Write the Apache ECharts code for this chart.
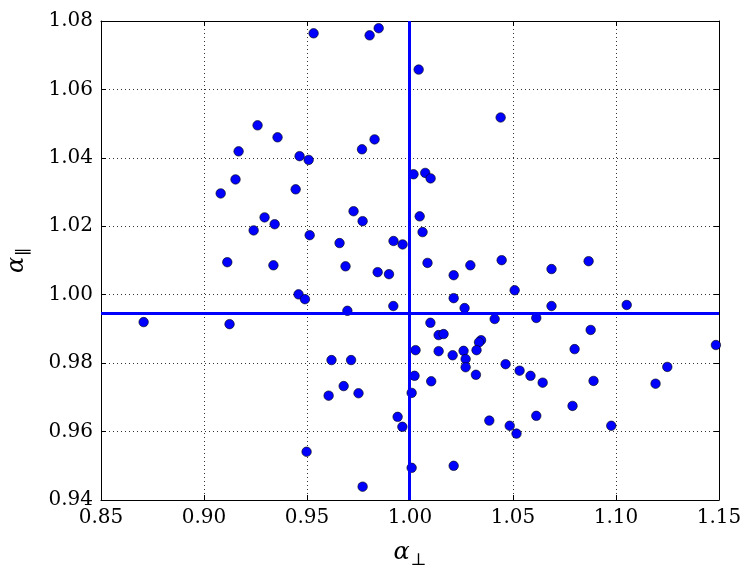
<!DOCTYPE html>
<html>
<head>
<meta charset="utf-8">
<script src="https://cdn.jsdelivr.net/npm/echarts@6/dist/echarts.min.js"></script>
<style>
  html, body { margin: 0; padding: 0; background: #fff; }
  #chart { width: 754px; height: 572px; }
</style>
</head>
<body>
<div id="chart"></div>
<script>
// alpha_perp (x) and alpha_par (y) for each realisation
const alphaPerp = [
  0.9532, 0.9804, 0.9848, 0.9260, 0.9357, 0.9168, 0.9464, 0.9508, 0.9828, 0.9767,
  0.9153, 0.9081, 0.9445, 0.9726, 0.9770, 0.9294, 0.9343, 0.9241, 0.9513, 0.9658,
  0.9920, 0.9964, 0.9113, 1.0042, 1.0440, 1.0017, 1.0074, 1.0100, 1.0047, 1.0061,
  1.0085, 1.0445, 1.0867, 0.9337, 0.9687, 0.9843, 0.9898, 0.9459, 0.9490, 0.9919,
  0.9696, 0.8707, 0.9124, 0.9619, 0.9714, 0.9678, 0.9750, 0.9605, 0.9940, 0.9963,
  0.9498, 0.9770, 1.0293, 1.0212, 1.0687, 1.0508, 1.0212, 1.0687, 1.1052, 1.0265,
  1.0411, 1.0613, 1.0099, 1.0139, 1.0163, 1.0877, 1.0345, 1.0335, 1.0027, 1.0139,
  1.0260, 1.0323, 1.0207, 1.0270, 1.0799, 1.1485, 1.0464, 1.0270, 1.0532, 1.0585,
  1.0022, 1.0320, 1.1249, 1.0103, 1.0644, 1.0891, 1.1192, 1.0008, 1.0789, 1.0613,
  1.0385, 1.0484, 1.0977, 1.0517, 1.0008, 1.0212
];
const alphaPar = [
  1.0764, 1.0758, 1.0779, 1.0495, 1.0460, 1.0419, 1.0405, 1.0394, 1.0454, 1.0425,
  1.0337, 1.0296, 1.0308, 1.0244, 1.0215, 1.0226, 1.0206, 1.0188, 1.0174, 1.0151,
  1.0157, 1.0147, 1.0095, 1.0658, 1.0518, 1.0352, 1.0356, 1.0340, 1.0229, 1.0183,
  1.0093, 1.0101, 1.0098, 1.0086, 1.0083, 1.0066, 1.0060, 1.0001, 0.9987, 0.9967,
  0.9953, 0.9920, 0.9914, 0.9809, 0.9809, 0.9733, 0.9712, 0.9705, 0.9643, 0.9614,
  0.9541, 0.9439, 1.0086, 1.0057, 1.0075, 1.0013, 0.9990, 0.9967, 0.9970, 0.9961,
  0.9929, 0.9932, 0.9918, 0.9882, 0.9885, 0.9897, 0.9867, 0.9861, 0.9838, 0.9835,
  0.9836, 0.9838, 0.9823, 0.9812, 0.9841, 0.9853, 0.9797, 0.9788, 0.9778, 0.9763,
  0.9763, 0.9766, 0.9789, 0.9747, 0.9743, 0.9748, 0.9740, 0.9713, 0.9675, 0.9646,
  0.9632, 0.9617, 0.9617, 0.9594, 0.9494, 0.9500
];
// mean values shown as the blue cross lines
const meanPerp = 0.9994;
const meanPar = 0.9947;

const xRange = { min: 0.85, max: 1.15, interval: 0.05 };
const yRange = { min: 0.94, max: 1.08, interval: 0.02 };

const serif = "DejaVu Serif";
const points = alphaPerp.map((x, i) => [x, alphaPar[i]]);

function xAxisDef(pos, show) {
  return {
    type: "value",
    position: pos,
    min: xRange.min,
    max: xRange.max,
    interval: xRange.interval,
    axisLine: { show: true, onZero: false, lineStyle: { color: "#000", width: 1 } },
    axisTick: { show: true, inside: true, length: 5, lineStyle: { color: "#000" } },
    axisLabel: {
      show: show,
      margin: 8,
      color: "#000",
      fontFamily: serif,
      fontSize: 20,
      formatter: v => v.toFixed(2)
    },
    splitLine: {
      show: show,
      lineStyle: { color: "#333", width: 1, type: [1, 3] }
    }
  };
}

function yAxisDef(pos, show) {
  return {
    type: "value",
    position: pos,
    min: yRange.min,
    max: yRange.max,
    interval: yRange.interval,
    axisLine: { show: true, onZero: false, lineStyle: { color: "#000", width: 1 } },
    axisTick: { show: true, inside: true, length: 5, lineStyle: { color: "#000" } },
    axisLabel: {
      show: show,
      margin: 8,
      color: "#000",
      fontFamily: serif,
      fontSize: 20,
      formatter: v => v.toFixed(2)
    },
    splitLine: {
      show: show,
      lineStyle: { color: "#333", width: 1, type: [1, 3] }
    }
  };
}

const nameRich = {
  a: { fontFamily: serif, fontStyle: "italic", fontSize: 24, color: "#000", verticalAlign: "bottom", lineHeight: 28 },
  b: { fontFamily: serif, fontSize: 17, color: "#000", verticalAlign: "bottom", lineHeight: 18, padding: [0, 0, -4, 1] }
};

const xBottom = xAxisDef("bottom", true);
xBottom.name = "{a|α}{b|⊥}";
xBottom.nameLocation = "middle";
xBottom.nameGap = 37;
xBottom.nameTextStyle = { rich: nameRich };

const yLeft = yAxisDef("left", true);
yLeft.name = "{a|α}{b|∥}";
yLeft.nameLocation = "middle";
yLeft.nameRotate = 90;
yLeft.nameGap = 72;
yLeft.nameTextStyle = { rich: nameRich };

const chart = echarts.init(document.getElementById("chart"), null, { renderer: "canvas" });
chart.setOption({
  backgroundColor: "#fff",
  animation: false,
  grid: { left: 101, right: 35, top: 21, bottom: 72, containLabel: false, outerBoundsMode: "none" },
  xAxis: [xBottom, xAxisDef("top", false)],
  yAxis: [yLeft, yAxisDef("right", false)],
  series: [
    {
      type: "scatter",
      data: points,
      symbol: "circle",
      symbolSize: 9.5,
      itemStyle: { color: "#0000ff", borderColor: "#000", borderWidth: 0.6, opacity: 1 },
      markLine: {
        silent: true,
        symbol: "none",
        precision: 4,
        label: { show: false },
        lineStyle: { color: "#0000ff", width: 3, type: "solid" },
        data: [{ xAxis: meanPerp }, { yAxis: meanPar }]
      }
    }
  ]
});
</script>
</body>
</html>
